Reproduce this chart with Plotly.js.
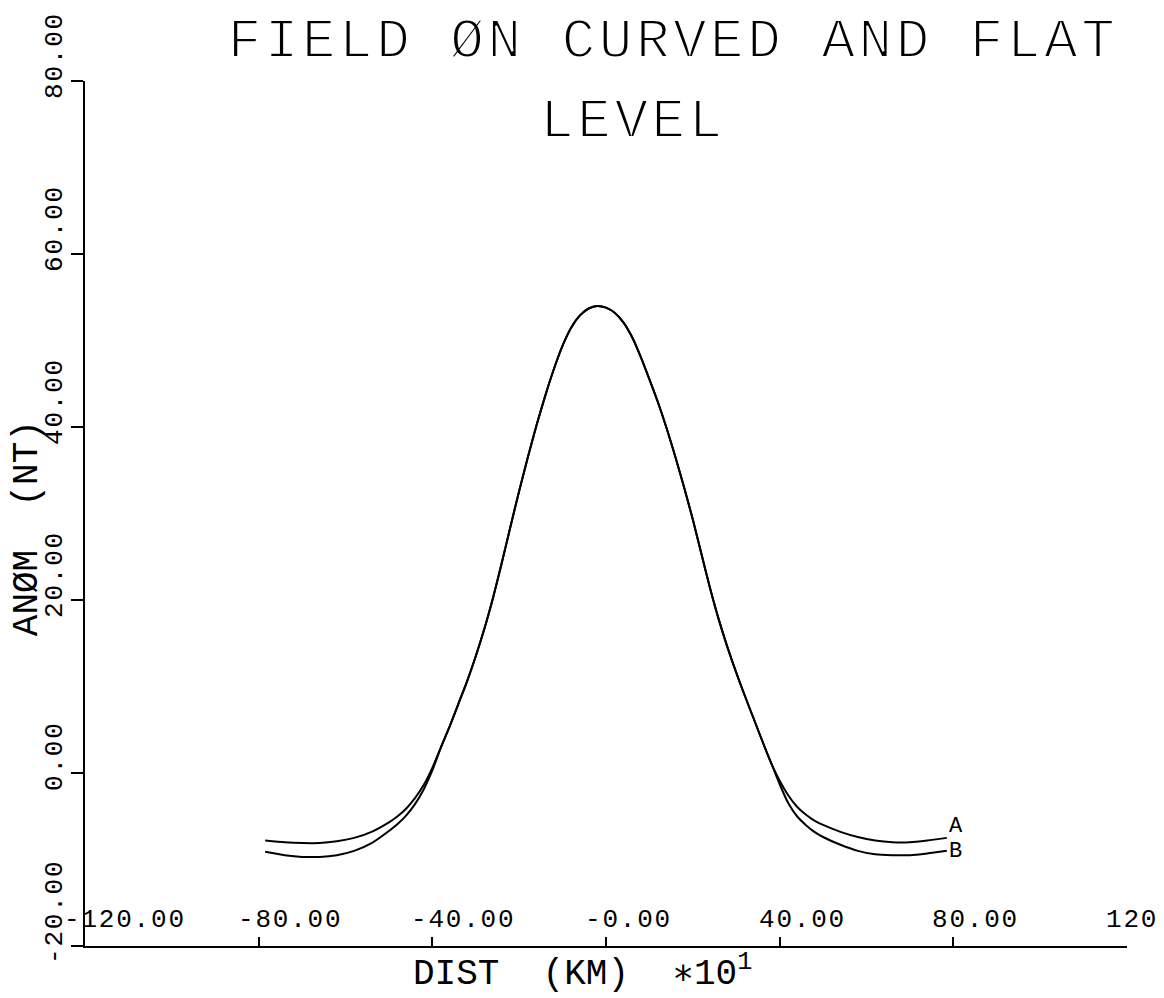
<!DOCTYPE html>
<html>
<head>
<meta charset="utf-8">
<script src="https://cdn.plot.ly/plotly-3.0.1.min.js"></script>
<style>
  html, body { margin: 0; padding: 0; background: #ffffff; }
  #chart .gtitle { letter-spacing: 3.5px; stroke: #ffffff; stroke-width: 2px; }
  #chart text.annotation-text[style*="font-size: 56px"] { letter-spacing: 3.5px; stroke: #ffffff; stroke-width: 2px; }
  #chart text.annotation-text[style*="font-size: 26px"] { letter-spacing: 1.8px; }
</style>
</head>
<body>
<div id="chart" style="width:1164px;height:998px;"></div>
<script>
// ---- data ----
const distKm = [-78.5,-74,-70,-66,-62,-58,-54,-50,-48,-46,-44,-42,-40,
  -38,-36,-34,-32,-30,-28,-26,-24,-22,-20,-18,-16,-14,-12,-10,-8,-6,-4,-2,
  0,2,4,6,8,10,12,14,16,18,20,22,24,26,28,30,32,34,36,38,
  40,42,44,46,48,50,54,58,62,66,70,74,78.5];

const anomA = [-7.8,-8.0,-8.1,-8.1,-7.9,-7.5,-6.8,-5.7,-5.0,-4.1,-2.9,-1.4,0.6,
  3.0,5.4,8.0,10.6,13.5,16.7,20.3,24.3,28.5,32.6,36.5,40.2,43.6,46.7,49.4,51.5,52.9,53.7,54.0,
  53.8,53.2,52.1,50.4,48.1,45.5,42.8,39.8,36.5,33.0,29.3,25.3,21.3,17.7,14.5,11.6,8.9,6.3,3.7,1.2,
  -0.9,-2.6,-3.9,-4.8,-5.5,-6.0,-6.8,-7.4,-7.8,-8.0,-8.0,-7.8,-7.5];

const anomB = [-9.1,-9.5,-9.7,-9.7,-9.5,-9.0,-8.1,-6.7,-5.9,-4.9,-3.6,-1.9,0.3,
  3.0,5.4,8.0,10.6,13.5,16.7,20.3,24.3,28.5,32.6,36.5,40.2,43.6,46.7,49.4,51.5,52.9,53.7,54.0,
  53.8,53.2,52.1,50.4,48.1,45.5,42.8,39.8,36.5,33.0,29.3,25.3,21.3,17.7,14.5,11.6,8.9,6.3,3.7,1.2,
  -1.3,-3.5,-5.0,-6.0,-6.8,-7.4,-8.3,-9.0,-9.4,-9.5,-9.5,-9.3,-9.0];

const curveNames = ['A', 'B'];

const xTickVals = [-120, -80, -40, 0, 40, 80, 120];
const xTickText = ['-120.00', '-80.00', '-40.00', '-0.00', '40.00', '80.00', '120'];
const yTickVals = [-20, 0, 20, 40, 60, 80];
const yTickText = ['-20.00', '0.00', '20.00', '40.00', '60.00', '80.00'];

const titleLine1 = 'FIELD ØN CURVED AND FLAT';
const titleLine2 = 'LEVEL';
const xTitle = 'DIST\u00a0\u00a0(KM)\u00a0\u00a0∗10<sup>1</sup>';
const yTitle = 'ANØM\u00a0\u00a0(NT)';

// ---- styling ----
const FONT = 'Liberation Mono, DejaVu Sans Mono, monospace';
const INK = '#000000';
const tickFont = { family: FONT, size: 26, color: INK };
const axisTitleFont = { family: FONT, size: 36, color: INK };

const lineStyle = { color: INK, width: 2, shape: 'spline', smoothing: 0.6 };

const traces = [
  { x: distKm, y: anomA, name: curveNames[0], type: 'scatter', mode: 'lines', line: lineStyle },
  { x: distKm, y: anomB, name: curveNames[1], type: 'scatter', mode: 'lines', line: lineStyle }
];

const annotations = [];

// x tick labels (drawn above the axis, starting just left of each tick)
xTickVals.forEach((v, i) => {
  annotations.push({
    x: v, y: yTickVals[0], xref: 'x', yref: 'y', text: xTickText[i],
    showarrow: false, xanchor: 'left', yanchor: 'bottom', align: 'left',
    xshift: -23, yshift: 9, font: tickFont
  });
});

// y tick labels (rotated, reading upward from just below each tick)
yTickVals.forEach((v, i) => {
  annotations.push({
    x: xTickVals[0], y: v, xref: 'x', yref: 'y', text: yTickText[i],
    showarrow: false, textangle: -90, xanchor: 'right', yanchor: 'bottom', align: 'left',
    xshift: -13, yshift: -20, font: tickFont
  });
});

// axis titles (placed as in the reference: x title left of centre, y title a little low)
annotations.push({
  x: 0.477, y: -0.0578, xref: 'paper', yref: 'paper', text: xTitle,
  showarrow: false, xanchor: 'center', yanchor: 'bottom', borderpad: 0, font: axisTitleFont
});
annotations.push({
  x: -0.0555, y: 0.4832, xref: 'paper', yref: 'paper', text: yTitle,
  showarrow: false, textangle: -90, xanchor: 'center', yanchor: 'middle', font: axisTitleFont
});

// curve end labels
const last = distKm.length - 1;
annotations.push({
  x: distKm[last], y: anomA[last], xref: 'x', yref: 'y', text: curveNames[0],
  showarrow: false, xanchor: 'left', yanchor: 'middle', xshift: 1, yshift: 11, borderpad: 0,
  font: { family: FONT, size: 22, color: INK }
});
annotations.push({
  x: distKm[last], y: anomB[last], xref: 'x', yref: 'y', text: curveNames[1],
  showarrow: false, xanchor: 'left', yanchor: 'middle', xshift: 1, yshift: -1, borderpad: 0,
  font: { family: FONT, size: 22, color: INK }
});

// second title line
annotations.push({
  x: 0.526, y: 0.9526, xref: 'paper', yref: 'paper', text: titleLine2,
  showarrow: false, xanchor: 'center', yanchor: 'middle',
  font: { family: FONT, size: 56, color: INK }
});

const layout = {
  width: 1164, height: 998,
  paper_bgcolor: '#ffffff', plot_bgcolor: '#ffffff',
  margin: { l: 85, r: 37, t: 81, b: 52, pad: 0 },
  showlegend: false,
  font: { family: FONT, color: INK },
  title: {
    text: titleLine1,
    font: { family: FONT, size: 56, color: INK },
    xref: 'container', yref: 'container',
    x: 673 / 1164, xanchor: 'center',
    y: 1 - 37.5 / 998, yanchor: 'middle'
  },
  xaxis: {
    range: [-120, 120], autorange: false,
    tickmode: 'array', tickvals: xTickVals, showticklabels: false,
    ticks: 'inside', ticklen: 9, tickwidth: 2, tickcolor: INK,
    showline: true, linecolor: INK, linewidth: 2, mirror: false,
    showgrid: false, zeroline: false
  },
  yaxis: {
    range: [-20, 80], autorange: false,
    tickmode: 'array', tickvals: yTickVals, showticklabels: false,
    ticks: 'outside', ticklen: 12, tickwidth: 2, tickcolor: INK,
    showline: true, linecolor: INK, linewidth: 2, mirror: false,
    showgrid: false, zeroline: false
  },
  annotations: annotations
};

Plotly.newPlot('chart', traces, layout, { displayModeBar: false, staticPlot: true });
</script>
</body>
</html>
